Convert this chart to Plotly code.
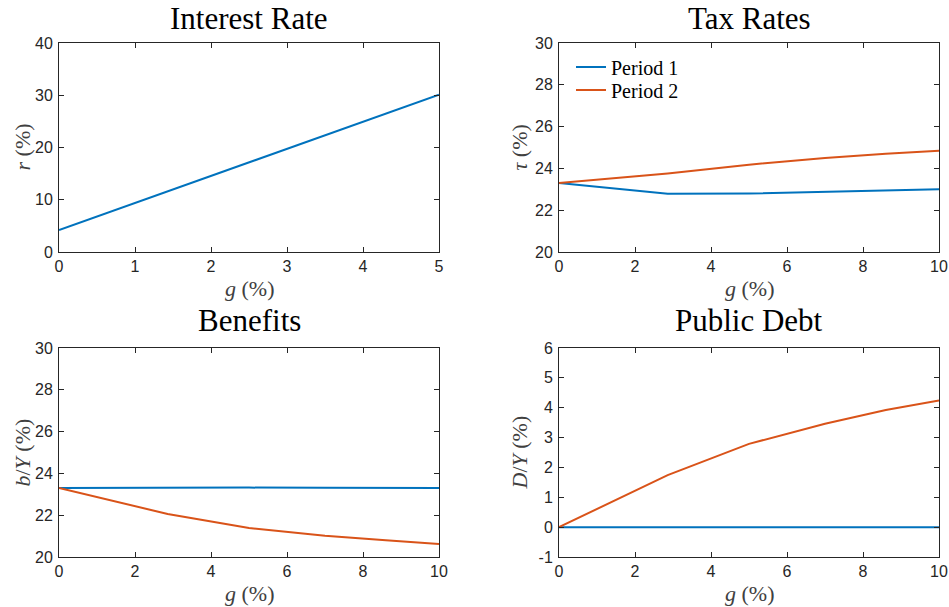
import plotly.graph_objects as go

# ---- data ----
g_rate = [0, 1, 2, 3, 4, 5]
r_vals = [4.2, 9.4, 14.5, 19.7, 24.9, 30.1]

g_pts = [0, 1.43, 2.86, 5.0, 7.0, 8.6, 10]
tax_p1 = [23.3, 23.03, 22.79, 22.80, 22.87, 22.94, 23.00]
tax_p2 = [23.3, 23.53, 23.76, 24.18, 24.50, 24.70, 24.84]
ben_p1 = [23.30, 23.31, 23.32, 23.32, 23.31, 23.31, 23.30]
ben_p2 = [23.3, 22.68, 22.06, 21.39, 21.02, 20.80, 20.62]
debt_p1 = [0, 0, 0, 0, 0, 0, 0]
debt_p2 = [0, 0.88, 1.74, 2.79, 3.46, 3.92, 4.24]

series_names = ["Period 1", "Period 2"]
titles = ["Interest Rate", "Tax Rates", "Benefits", "Public Debt"]
ylabels = ["<i>r</i> (%)", "<i>τ</i> (%)", "<i>b</i>/<i>Y</i> (%)", "<i>D</i>/<i>Y</i> (%)"]
xlabel = "<i>g</i> (%)"
debt_ticks = [-1, 0, 1, 2, 3, 4, 5, 6]
debt_ticklabels = ["-1", "0", "1", "2", "3", "4", "5", "6"]

BLUE = "#0072BD"
ORANGE = "#D95319"

W, H = 949, 607
def px_x(p): return p / W
def px_y(p): return 1 - p / H

dom_x = [[px_x(59), px_x(439)], [px_x(559), px_x(939)]]
dom_y = [[px_y(252), px_y(43)], [px_y(557), px_y(348)]]

fig = go.Figure()

lw = 2
fig.add_trace(go.Scatter(x=g_rate, y=r_vals, mode="lines", line=dict(color=BLUE, width=lw),
                         showlegend=False, xaxis="x", yaxis="y"))
fig.add_trace(go.Scatter(x=g_pts, y=tax_p1, mode="lines", line=dict(color=BLUE, width=lw),
                         name=series_names[0], showlegend=True, legend="legend",
                         xaxis="x2", yaxis="y2"))
fig.add_trace(go.Scatter(x=g_pts, y=tax_p2, mode="lines", line=dict(color=ORANGE, width=lw),
                         name=series_names[1], showlegend=True, legend="legend2",
                         xaxis="x2", yaxis="y2"))
fig.add_trace(go.Scatter(x=g_pts, y=ben_p1, mode="lines", line=dict(color=BLUE, width=lw),
                         showlegend=False, xaxis="x3", yaxis="y3"))
fig.add_trace(go.Scatter(x=g_pts, y=ben_p2, mode="lines", line=dict(color=ORANGE, width=lw),
                         showlegend=False, xaxis="x3", yaxis="y3"))
fig.add_trace(go.Scatter(x=g_pts, y=debt_p1, mode="lines", line=dict(color=BLUE, width=lw),
                         showlegend=False, xaxis="x4", yaxis="y4"))
fig.add_trace(go.Scatter(x=g_pts, y=debt_p2, mode="lines", line=dict(color=ORANGE, width=lw),
                         showlegend=False, xaxis="x4", yaxis="y4"))

tickfont = dict(family="Liberation Sans, Arial, sans-serif", size=16, color="#262626")
axis_common = dict(showline=True, linecolor="#262626", linewidth=1, mirror="allticks",
                   ticks="inside", ticklen=5, tickcolor="#262626", showgrid=False,
                   zeroline=False, tickfont=tickfont, automargin=False, fixedrange=True,
                   ticklabeloverflow="allow")

xranges = [[0, 5], [0, 10], [0, 10], [0, 10]]
yranges = [[0, 40], [20, 30], [20, 30], [-1, 6]]
xdticks = [1, 2, 2, 2]
ydticks = [10, 2, 2, 1]
positions = [(0, 0), (1, 0), (0, 1), (1, 1)]

layout = dict(width=W, height=H, margin=dict(l=0, r=0, t=0, b=0),
              paper_bgcolor="white", plot_bgcolor="white")
for i in range(4):
    cx, cy = positions[i]
    sx = "" if i == 0 else str(i + 1)
    layout["xaxis" + sx] = dict(domain=dom_x[cx], range=xranges[i], dtick=xdticks[i],
                                anchor="y" + sx, **axis_common)
    layout["yaxis" + sx] = dict(domain=dom_y[cy], range=yranges[i], dtick=ydticks[i],
                                anchor="x" + sx, ticklabelstandoff=2, **axis_common)
layout["yaxis4"].update(tickmode="array", tickvals=debt_ticks, ticktext=debt_ticklabels)

fig.update_layout(**layout)

serif = "Liberation Serif, Times New Roman, serif"
annotations = []
title_y = [18, 321]
xlab_y = [288, 593]
ylab_x = [22, 519]
for i in range(4):
    cx, cy = positions[i]
    xc = (dom_x[cx][0] + dom_x[cx][1]) / 2
    annotations.append(dict(text=titles[i], x=xc, y=px_y(title_y[cy]), xref="paper", yref="paper",
                            showarrow=False, xanchor="center", yanchor="middle",
                            font=dict(family=serif, size=31, color="black")))
    annotations.append(dict(text=xlabel, x=xc, y=px_y(xlab_y[cy]), xref="paper", yref="paper",
                            showarrow=False, xanchor="center", yanchor="middle",
                            font=dict(family=serif, size=22, color="#404040")))
    yc = (dom_y[cy][0] + dom_y[cy][1]) / 2
    annotations.append(dict(text=ylabels[i], x=px_x(ylab_x[cx]), y=yc, xref="paper", yref="paper",
                            showarrow=False, xanchor="center", yanchor="middle", textangle=-90,
                            font=dict(family=serif, size=22, color="#404040")))
fig.update_layout(annotations=annotations)

leg_common = dict(xanchor="left", yanchor="middle", bgcolor="rgba(0,0,0,0)", borderwidth=0,
                  font=dict(family=serif, size=20, color="black"), itemwidth=30)
fig.update_layout(legend=dict(x=px_x(571), y=px_y(67), **leg_common),
                  legend2=dict(x=px_x(571), y=px_y(90), **leg_common))

fig.write_html("out.html", config={"displayModeBar": False},
               post_script="document.body.style.margin='0';document.body.style.overflow='hidden';")
